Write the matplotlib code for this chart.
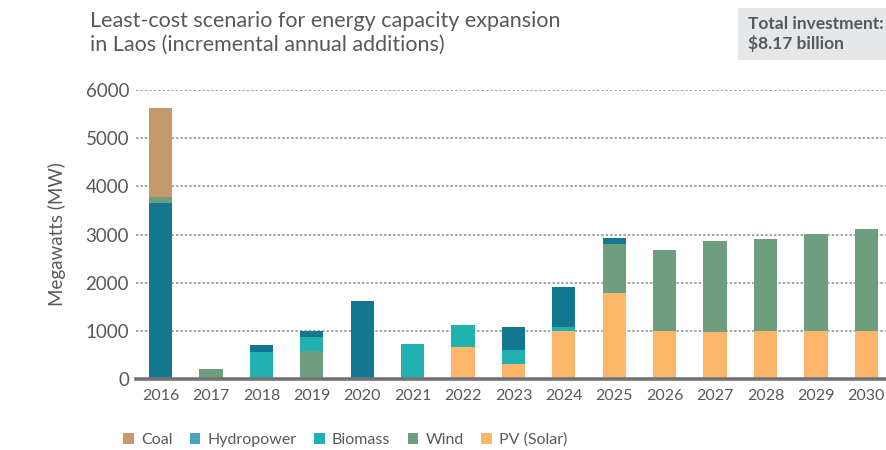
import matplotlib
matplotlib.use("Agg")
import matplotlib.pyplot as plt
from matplotlib.patches import Patch
import numpy as np

plt.rcParams['font.family'] = ['Lato', 'DejaVu Sans']

years = ['2016', '2017', '2018', '2019', '2020', '2021', '2022', '2023',
         '2024', '2025', '2026', '2027', '2028', '2029', '2030']

# Annual capacity additions (MW)
solar = [0, 0, 0, 0, 0, 0, 660, 300, 1000, 1790, 1000, 980, 1000, 1000, 1000]
wind = [125, 200, 0, 580, 0, 0, 0, 0, 0, 1010, 1680, 1890, 1910, 2010, 2110]
biomass = [0, 0, 560, 290, 0, 720, 460, 300, 80, 0, 0, 0, 0, 0, 0]
hydro = [3655, 0, 140, 130, 1620, 0, 0, 480, 830, 125, 0, 0, 0, 0, 0]
coal = [1850, 0, 0, 0, 0, 0, 0, 0, 0, 0, 0, 0, 0, 0, 0]

legend_items = [
    ('Coal', '#c49a6c'),
    ('Hydropower', '#4aa2bf'),
    ('Biomass', '#20b1b0'),
    ('Wind', '#6f9d7f'),
    ('PV (Solar)', '#fbb669'),
]

c_solar, c_wind, c_bio, c_hydro, c_coal = '#fbb669', '#6f9d7f', '#20b1b0', '#13778f', '#c49a6c'
text_color = '#58595b'

fig = plt.figure(figsize=(8.86, 4.5), dpi=100)
ax = fig.add_axes([136 / 886, 1 - 378.8 / 450, 1 - 136 / 886, (378.8 - 90.2) / 450])

x = np.arange(len(years))
width = 0.46

solar_a = np.array(solar)
wind_a = np.array(wind)
biomass_a = np.array(biomass)
hydro_a = np.array(hydro)
coal_a = np.array(coal)

# Stacking: solar -> wind -> biomass -> hydro -> coal,
# except 2016 where the small wind slice sits on top of hydro.
first = (x == 0)
bottom = np.zeros(len(years))
for vals, col in [(solar_a, c_solar), (wind_a * ~first, c_wind), (biomass_a, c_bio),
                  (hydro_a, c_hydro), (wind_a * first, c_wind), (coal_a, c_coal)]:
    ax.bar(x, vals, width, bottom=bottom, color=col, zorder=2)
    bottom = bottom + vals

ax.set_xlim(-0.486, 14.39)
ax.set_ylim(0, 6000)
ax.set_yticks([0, 1000, 2000, 3000, 4000, 5000, 6000])
ax.set_xticks(x)
ax.set_xticklabels(years)

for y in [1000, 2000, 3000, 4000, 5000, 6000]:
    ax.axhline(y, color='#8c8c8c', linewidth=1.1, linestyle=(0, (1.6, 1.3)), zorder=1)

for s in ['top', 'right', 'left']:
    ax.spines[s].set_visible(False)
ax.spines['bottom'].set_color('#737373')
ax.spines['bottom'].set_linewidth(2.6)
ax.spines['bottom'].set_zorder(3)

ax.tick_params(axis='both', length=0, colors=text_color)
ax.tick_params(axis='x', pad=7, labelsize=11.5)
ax.tick_params(axis='y', pad=5, labelsize=13.5)

ax.set_ylabel('Megawatts (MW)', fontsize=13.5, color=text_color, labelpad=14)

fig.text(90 / 886, 1 - 33 / 450, 'Least-cost scenario for energy capacity expansion\nin Laos (incremental annual additions)',
         fontsize=15.5, color=text_color, va='center', ha='left', linespacing=1.2)

# Investment callout box
fig.patches.append(plt.Rectangle((738 / 886, 1 - 60 / 450), 148 / 886, 52 / 450,
                                 transform=fig.transFigure, facecolor='#e6e7e8',
                                 edgecolor='none', zorder=0))
fig.text(748 / 886, 1 - 34 / 450, 'Total investment:\n$8.17 billion', fontsize=12.5,
         fontweight='bold', color=text_color, va='center', ha='left', linespacing=1.2)

handles = [Patch(facecolor=c, edgecolor='none', label=n) for n, c in legend_items]
fig.legend(handles=handles, loc='center left', bbox_to_anchor=(109 / 886, 1 - 440 / 450),
           ncol=5, frameon=False, fontsize=11.5, handlelength=0.65, handleheight=0.65,
           handletextpad=0.45, columnspacing=1.1, labelcolor=text_color)

fig.savefig('out.png', dpi=100)
